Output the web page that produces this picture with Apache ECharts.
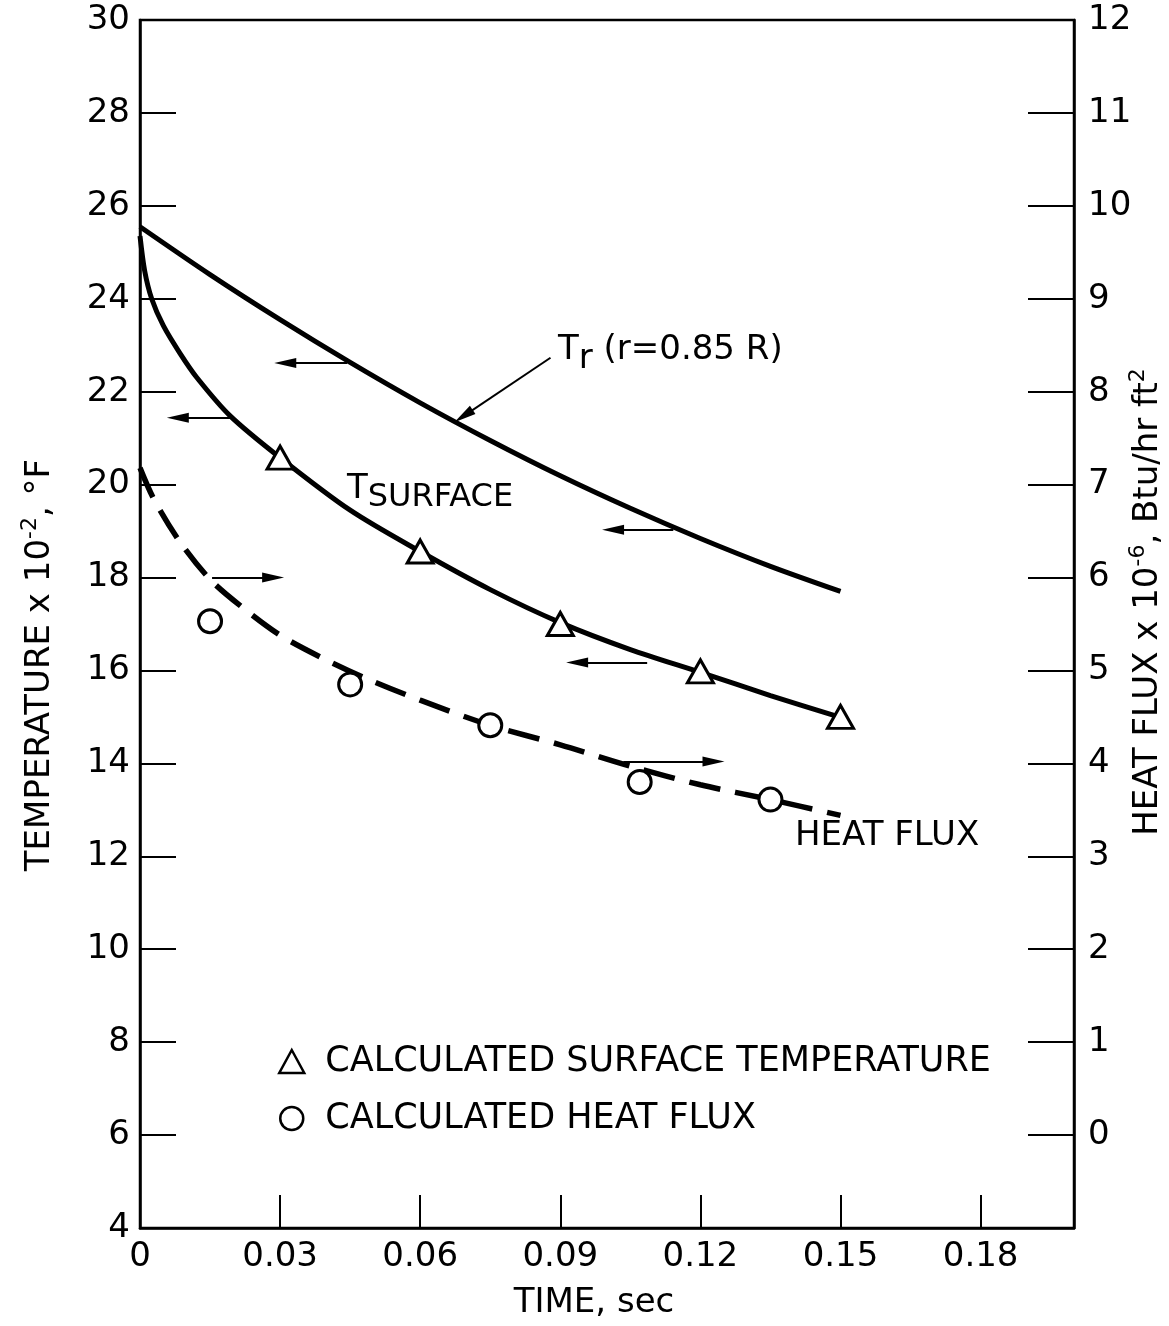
<!DOCTYPE html>
<html><head><meta charset="utf-8">
<script src="https://cdn.jsdelivr.net/npm/echarts@6/dist/echarts.min.js"></script>
<style>html,body{margin:0;padding:0;background:#fff}#c{width:1169px;height:1326px}</style>
</head><body><div id="c"></div>
<script>
// ---- tick labels ----
const xTickLabels = ['0','0.03','0.06','0.09','0.12','0.15','0.18'];
const leftTickLabels = ['4','6','8','10','12','14','16','18','20','22','24','26','28','30'];
const rightTickLabels = ['0','1','2','3','4','5','6','7','8','9','10','11','12'];

// ---- T_r (r = 0.85R), temperature x 10^-2 F ----
const trTime = [0,0.015,0.03,0.045,0.06,0.075,0.09,0.105,0.12,0.135,0.15];
const trTemp = [25.55,24.52,23.55,22.63,21.76,20.95,20.19,19.49,18.84,18.24,17.70];

// ---- T surface curve ----
const surfTime = [0,0.001,0.0025,0.005,0.0086,0.0122,0.0193,0.03,0.045,0.06,0.075,0.09,0.105,0.12,0.135,0.15];
const surfTemp = [25.35,24.60,24.00,23.42,22.82,22.30,21.48,20.58,19.45,18.56,17.74,17.03,16.45,15.96,15.46,14.99];

// ---- calculated surface temperature (triangles) ----
const calcSurfTime = [0.03,0.06,0.09,0.12,0.15];
const calcSurfTemp = [20.58,18.56,17.0,15.98,15.0];

// ---- heat flux curve, x 10^-6 Btu/hr ft2 (right axis) ----
const fluxTime = [0,0.003,0.0086,0.015,0.0214,0.03,0.04,0.0486,0.06,0.075,0.09,0.105,0.12,0.135,0.15];
const fluxVal = [7.18,6.84,6.38,5.98,5.70,5.38,5.11,4.91,4.68,4.41,4.20,3.97,3.77,3.61,3.44];

// ---- calculated heat flux (circles) ----
const calcFluxTime = [0.015,0.045,0.075,0.107,0.135];
const calcFluxVal = [5.53,4.85,4.41,3.80,3.61];

const zip = (a,b) => a.map((v,i)=>[v,b[i]]);
const FONT = 'DejaVu Sans';
const chart = echarts.init(document.getElementById('c'), null, {renderer:'canvas'});

const head = {symbol:'triangle', symbolSize:[10,22]};
function arrow(x1,y1,x2,y2){ return [{coord:[x1,y1], symbol:'none'}, Object.assign({coord:[x2,y2]}, head)]; }
const mlBase = {silent:true, animation:false, symbol:['none','triangle'], label:{show:false},
  lineStyle:{color:'#000', width:2, type:'solid'}, emphasis:{disabled:true}};

const option = {
  animation:false,
  backgroundColor:'#fff',
  textStyle:{fontFamily:FONT, color:'#000'},
  grid:{left:140, right:95, top:20, bottom:98, show:true, borderColor:'#000', borderWidth:2.5, backgroundColor:'transparent'},
  legend:{
    left:273, top:1039, orient:'vertical', itemGap:22, itemWidth:25, itemHeight:23,
    selectedMode:false,
    itemStyle:{color:'#fff', borderColor:'#000', borderWidth:2.5},
    textStyle:{fontFamily:FONT, fontSize:35, color:'#000', padding:[0,0,0,16]},
    data:[{name:'CALCULATED SURFACE TEMPERATURE', icon:'triangle'},{name:'CALCULATED HEAT FLUX', icon:'circle'}]
  },
  xAxis:{
    type:'value', min:0, max:0.2, interval:0.03,
    name:'TIME, sec', nameLocation:'middle', nameGap:58,
    nameTextStyle:{fontFamily:FONT, fontSize:34, color:'#000', padding:[0,26,0,0]},
    axisLine:{onZero:false, lineStyle:{color:'#000', width:2.5}},
    axisTick:{inside:true, length:33, lineStyle:{color:'#000', width:2}},
    splitLine:{show:false},
    axisLabel:{fontFamily:FONT, fontSize:34, color:'#000', margin:12, showMaxLabel:false,
      formatter:v=>{const i=Math.round(v/0.03); return (Math.abs(v-i*0.03)<1e-9 && xTickLabels[i]!==undefined)?xTickLabels[i]:'';}}
  },
  yAxis:[{
    type:'value', min:4, max:30, interval:2, position:'left',
    axisLine:{show:true, onZero:false, lineStyle:{color:'#000', width:2.5}},
    axisTick:{show:true, inside:true, length:36, lineStyle:{color:'#000', width:2}},
    splitLine:{show:false},
    axisLabel:{fontFamily:FONT, fontSize:34, color:'#000', margin:10,
      formatter:v=>leftTickLabels[Math.round((v-4)/2)] || ''}
  },{
    type:'value', min:-1, max:12, interval:1, position:'right',
    axisLine:{show:true, onZero:false, lineStyle:{color:'#000', width:2.5}},
    axisTick:{show:true, inside:true, length:46, lineStyle:{color:'#000', width:2}},
    splitLine:{show:false},
    axisLabel:{fontFamily:FONT, fontSize:34, color:'#000', margin:14,
      formatter:v=>v<0?'':(rightTickLabels[Math.round(v)] || '')}
  }],
  series:[
    {name:'Tr', type:'line', yAxisIndex:0, data:zip(trTime,trTemp), smooth:0.3,
      showSymbol:false, symbol:'none', lineStyle:{color:'#000', width:5}, z:2,
      markLine:Object.assign({}, mlBase, {data:[
        arrow(0.04436,22.62,0.0311,22.62),
        arrow(0.1142,19.03,0.1013,19.03),
        arrow(0.0879,22.73,0.06928,21.475)
      ]})},
    {name:'Tsurface', type:'line', yAxisIndex:0, data:zip(surfTime,surfTemp), smooth:0.3,
      showSymbol:false, symbol:'none', lineStyle:{color:'#000', width:5}, z:2,
      markLine:Object.assign({}, mlBase, {data:[
        arrow(0.01929,21.44,0.0081,21.44),
        arrow(0.1086,16.17,0.0936,16.17)
      ]})},
    {name:'HeatFlux', type:'line', yAxisIndex:1, data:zip(fluxTime,fluxVal), smooth:0.3,
      showSymbol:false, symbol:'none', lineStyle:{color:'#000', width:5.5, type:[32,15]}, z:2,
      markLine:Object.assign({}, mlBase, {data:[
        arrow(0.01543,6.0,0.0285,6.0),
        arrow(0.1035,4.02,0.1228,4.02)
      ]})},
    {name:'CALCULATED SURFACE TEMPERATURE', type:'scatter', yAxisIndex:0, data:zip(calcSurfTime,calcSurfTemp),
      symbol:'triangle', symbolSize:[26,23], z:5,
      itemStyle:{color:'#fff', borderColor:'#000', borderWidth:3, opacity:1}},
    {name:'CALCULATED HEAT FLUX', type:'scatter', yAxisIndex:1, data:zip(calcFluxTime,calcFluxVal),
      symbol:'circle', symbolSize:23, z:5,
      itemStyle:{color:'#fff', borderColor:'#000', borderWidth:3, opacity:1}}
  ],
  graphic:[
    {type:'text', x:558, y:350, style:{
      text:'{m|T}{sb|r}{m| (r=0.85 R)}', textAlign:'left', textVerticalAlign:'middle',
      rich:{m:{fontFamily:FONT, fontSize:34, fill:'#000'}, sb:{fontFamily:FONT, fontSize:34, fill:'#000', padding:[18,0,0,0]}}}},
    {type:'text', x:347, y:489, style:{
      text:'{m|T}{sb|SURFACE}', textAlign:'left', textVerticalAlign:'middle',
      rich:{m:{fontFamily:FONT, fontSize:34, fill:'#000'}, sb:{fontFamily:FONT, fontSize:32, fill:'#000', padding:[18,0,0,0]}}}},
    {type:'text', x:795, y:836, style:{text:'HEAT FLUX', fontFamily:FONT, fontSize:34, fill:'#000', textAlign:'left', textVerticalAlign:'middle'}},
    {type:'text', x:40, y:665, rotation:Math.PI/2, style:{
      text:'{n|TEMPERATURE x 10}{s|-2}{n|, °F}', textAlign:'center', textVerticalAlign:'middle',
      rich:{n:{fontFamily:FONT, fontSize:34, fill:'#000'}, s:{fontFamily:FONT, fontSize:22, fill:'#000', padding:[0,0,20,0]}}}},
    {type:'text', x:1148, y:602, rotation:Math.PI/2, style:{
      text:'{n|HEAT FLUX x 10}{s|-6}{n|, Btu/hr ft}{s|2}', textAlign:'center', textVerticalAlign:'middle',
      rich:{n:{fontFamily:FONT, fontSize:34, fill:'#000'}, s:{fontFamily:FONT, fontSize:22, fill:'#000', padding:[0,0,20,0]}}}}
  ]
};
chart.setOption(option);
</script></body></html>
